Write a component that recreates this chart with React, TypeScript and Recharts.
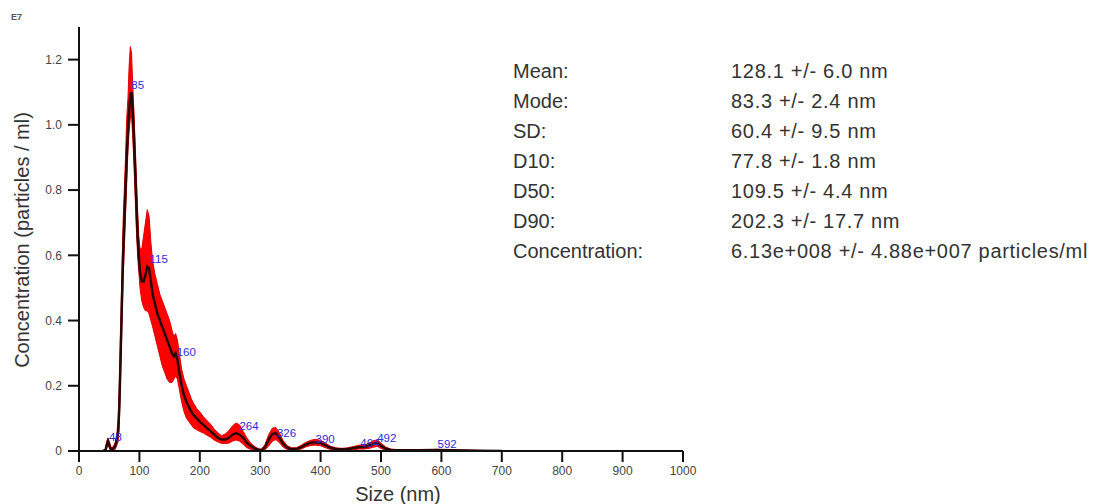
import React from 'react';
import { ComposedChart, Area, Line, Scatter, XAxis, YAxis } from 'recharts';

const sizes = [
  40, 44, 46, 48, 50, 53, 56, 60, 63, 65, 67, 69, 71, 73, 75, 77, 79, 81, 83, 85, 87, 89, 91, 93, 95, 97, 99,
  101, 104, 107, 110, 113, 116, 119, 122, 126, 130, 134, 138, 142, 146, 150, 154, 157, 160, 163, 166, 170,
  174, 178, 182, 186, 190, 195, 200, 206, 212, 218, 224, 230, 236, 242, 248, 254, 260, 266, 272, 278, 284,
  290, 296, 302, 308, 314, 320, 326, 332, 338, 345, 352, 360, 368, 376, 384, 392, 400, 408, 416, 425, 435,
  445, 455, 464, 472, 480, 488, 494, 500, 508, 516, 530, 560, 592, 620, 660, 700,
];
const meanConc = [
  0, 0.003, 0.02, 0.03, 0.02, 0.004, 0.006, 0.015, 0.04, 0.06, 0.15, 0.3, 0.45, 0.6, 0.7, 0.8, 0.9, 0.98, 1.04,
  1.09, 1.1, 1.04, 0.96, 0.86, 0.76, 0.66, 0.6, 0.55, 0.52, 0.52, 0.54, 0.565, 0.56, 0.52, 0.48, 0.45, 0.42,
  0.4, 0.38, 0.36, 0.34, 0.32, 0.3, 0.29, 0.3, 0.28, 0.24, 0.2, 0.17, 0.15, 0.135, 0.12, 0.11, 0.1, 0.09, 0.08,
  0.07, 0.06, 0.05, 0.04, 0.035, 0.035, 0.04, 0.05, 0.055, 0.05, 0.04, 0.025, 0.015, 0.008, 0.004, 0.002,
  0.012, 0.035, 0.052, 0.055, 0.04, 0.022, 0.01, 0.005, 0.006, 0.012, 0.02, 0.025, 0.027, 0.024, 0.017, 0.01,
  0.006, 0.005, 0.006, 0.009, 0.012, 0.012, 0.016, 0.022, 0.024, 0.016, 0.007, 0.003, 0.002, 0.002, 0.003,
  0.002, 0.001, 0,
];
const lowConc = [
  0, 0, 0.01, 0.018, 0.01, 0, 0, 0.005, 0.02, 0.03, 0.1, 0.24, 0.38, 0.53, 0.62, 0.72, 0.82, 0.92, 0.98, 1.02,
  1.03, 0.96, 0.88, 0.78, 0.68, 0.6, 0.55, 0.5, 0.46, 0.44, 0.43, 0.43, 0.42, 0.4, 0.38, 0.35, 0.32, 0.29,
  0.26, 0.24, 0.22, 0.21, 0.21, 0.22, 0.23, 0.22, 0.19, 0.15, 0.12, 0.1, 0.09, 0.08, 0.07, 0.065, 0.06, 0.055,
  0.048, 0.042, 0.033, 0.028, 0.023, 0.023, 0.024, 0.03, 0.034, 0.03, 0.02, 0.01, 0.005, 0.002, 0, 0, 0.004,
  0.015, 0.03, 0.035, 0.025, 0.012, 0.004, 0.001, 0.002, 0.006, 0.013, 0.017, 0.018, 0.016, 0.01, 0.005,
  0.002, 0.002, 0.002, 0.004, 0.006, 0.006, 0.008, 0.012, 0.014, 0.008, 0.002, 0, 0, 0, 0.001, 0, 0, 0,
];
const highConc = [
  0, 0.008, 0.03, 0.04, 0.03, 0.01, 0.012, 0.025, 0.06, 0.1, 0.22, 0.38, 0.54, 0.7, 0.8, 0.9, 1.02, 1.08,
  1.18, 1.24, 1.22, 1.12, 1.04, 0.94, 0.84, 0.74, 0.66, 0.62, 0.62, 0.66, 0.7, 0.74, 0.72, 0.64, 0.58, 0.54,
  0.51, 0.48, 0.46, 0.44, 0.42, 0.4, 0.37, 0.35, 0.36, 0.34, 0.3, 0.25, 0.22, 0.2, 0.18, 0.16, 0.145, 0.13,
  0.12, 0.105, 0.093, 0.082, 0.067, 0.056, 0.047, 0.052, 0.062, 0.077, 0.086, 0.08, 0.06, 0.04, 0.025, 0.015,
  0.008, 0.005, 0.02, 0.05, 0.07, 0.072, 0.055, 0.032, 0.016, 0.01, 0.01, 0.018, 0.027, 0.033, 0.036, 0.032,
  0.024, 0.015, 0.01, 0.008, 0.01, 0.014, 0.018, 0.018, 0.024, 0.032, 0.034, 0.024, 0.012, 0.006, 0.004,
  0.003, 0.005, 0.003, 0.002, 0,
];

const peakSizes = [48, 85, 115, 160, 264, 326, 390, 464, 492, 592];
const peakHeights = [0.04, 1.12, 0.585, 0.3, 0.075, 0.052, 0.035, 0.022, 0.036, 0.02];

const xTicks = [0, 100, 200, 300, 400, 500, 600, 700, 800, 900, 1000];
const yTicks = [0, 0.2, 0.4, 0.6, 0.8, 1.0, 1.2];

const statLabels = ['Mean:', 'Mode:', 'SD:', 'D10:', 'D50:', 'D90:', 'Concentration:'];
const statValues = [
  '128.1 +/- 6.0 nm',
  '83.3 +/- 2.4 nm',
  '60.4 +/- 9.5 nm',
  '77.8 +/- 1.8 nm',
  '109.5 +/- 4.4 nm',
  '202.3 +/- 17.7 nm',
  '6.13e+008 +/- 4.88e+007 particles/ml',
];

const rows = sizes.map((s, i) => ({ size: s, mean: meanConc[i], band: [lowConc[i], highConc[i]] }));
const peaks = peakSizes.map((s, i) => ({ size: s, h: peakHeights[i], label: String(s) }));

const FONT = '"Liberation Sans", Arial, sans-serif';

const PeakLabel = (props: any) => (
  <text
    x={props.cx + 1}
    y={props.cy}
    dominantBaseline="middle"
    fontSize={11.5}
    fontFamily={FONT}
    fill="#2b2bdd"
  >
    {props.payload.label}
  </text>
);

export default function App() {
  return (
    <div style={{ position: 'absolute', left: 0, top: 0, width: 1105, height: 504, background: '#fff', fontFamily: FONT }}>
      <ComposedChart width={1105} height={504} data={rows} margin={{ top: 27, right: 422, bottom: 0, left: 0 }}>
        <XAxis
          type="number"
          dataKey="size"
          domain={[0, 1000]}
          ticks={xTicks}
          allowDataOverflow
          height={53}
          tickSize={11}
          tickMargin={4}
          axisLine={{ stroke: '#111', strokeWidth: 2 }}
          tickLine={{ stroke: '#111', strokeWidth: 2 }}
          tick={{ fill: '#444', fontSize: 12, fontFamily: FONT }}
        />
        <YAxis
          type="number"
          domain={[0, 1.3]}
          ticks={yTicks}
          allowDataOverflow
          width={79}
          tickSize={11}
          tickMargin={6}
          tickFormatter={(v: number) => (v === 0 ? '0' : v.toFixed(1))}
          axisLine={{ stroke: '#111', strokeWidth: 2 }}
          tickLine={{ stroke: '#111', strokeWidth: 2 }}
          tick={{ fill: '#444', fontSize: 12, fontFamily: FONT }}
        />
        <Area
          type="linear"
          dataKey="band"
          stroke="#e00000"
          strokeWidth={1}
          fill="#ff0000"
          fillOpacity={1}
          isAnimationActive={false}
        />
        <Line
          type="linear"
          dataKey="mean"
          stroke="#2a0505"
          strokeWidth={2.5}
          dot={false}
          isAnimationActive={false}
        />
        <Scatter data={peaks} dataKey="h" shape={PeakLabel} isAnimationActive={false} />
      </ComposedChart>

      <div style={{ position: 'absolute', left: 11, top: 12, fontSize: 9, fontWeight: 'bold', color: '#555' }}>E7</div>
      <div
        style={{
          position: 'absolute',
          left: 22,
          top: 240,
          transform: 'translate(-50%, -50%) rotate(-90deg)',
          whiteSpace: 'nowrap',
          fontSize: 20,
          color: '#333',
        }}
      >
        Concentration (particles / ml)
      </div>
      <div
        style={{
          position: 'absolute',
          left: 398,
          top: 494,
          transform: 'translate(-50%, -50%)',
          whiteSpace: 'nowrap',
          fontSize: 20,
          color: '#333',
        }}
      >
        Size (nm)
      </div>

      {statLabels.map((lab, i) => (
        <React.Fragment key={lab}>
          <div style={{ position: 'absolute', left: 513, top: 71 + i * 30 - 12, lineHeight: '24px', fontSize: 20, color: '#333', whiteSpace: 'nowrap' }}>
            {lab}
          </div>
          <div style={{ position: 'absolute', left: 731, top: 71 + i * 30 - 12, lineHeight: '24px', fontSize: 20, letterSpacing: 0.7, color: '#333', whiteSpace: 'nowrap' }}>
            {statValues[i]}
          </div>
        </React.Fragment>
      ))}
    </div>
  );
}
